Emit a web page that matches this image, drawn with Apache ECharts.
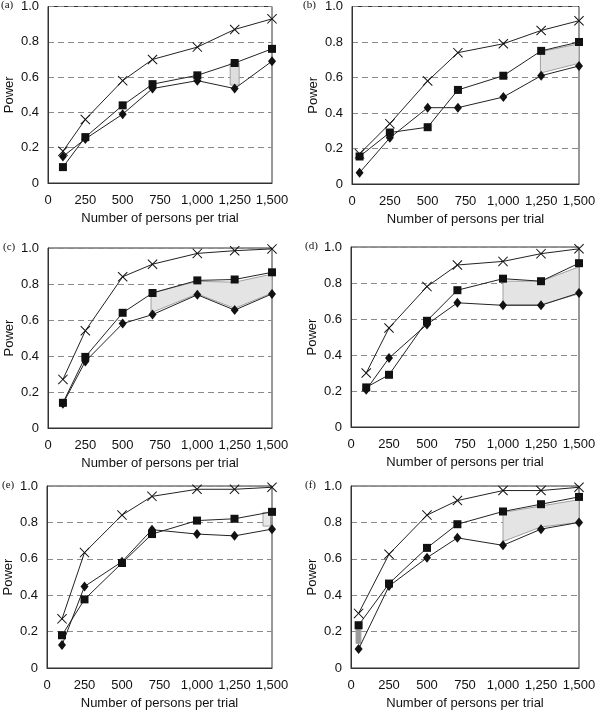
<!DOCTYPE html>
<html><head><meta charset="utf-8">
<script src="https://cdn.jsdelivr.net/npm/echarts@6/dist/echarts.min.js"></script>
<style>html,body{margin:0;padding:0;background:#fff}#c{width:600px;height:711px}</style>
</head><body><div id="c"></div>
<script>
// ---- data ----
const panelLabels = ['(a)','(b)','(c)','(d)','(e)','(f)'];
const xTicks = [0,250,500,750,1000,1250,1500];
const yTicks = [0,0.2,0.4,0.6,0.8,1.0];

const xA = [100,250,500,700,1000,1250,1500];
const crossA   = [0.18,0.36,0.58,0.70,0.77,0.87,0.93];
const squareA  = [0.09,0.26,0.44,0.56,0.61,0.68,0.76];
const diamondA = [0.15,0.25,0.39,0.535,0.58,0.535,0.69];
const bandXA = [[1220,1280]], bandLowA = [[0.555,0.555]], bandHighA = [[0.68,0.68]];

const xB = [50,250,500,700,1000,1250,1500];
const crossB   = [0.17,0.34,0.58,0.74,0.79,0.865,0.92];
const squareB  = [0.155,0.29,0.32,0.53,0.61,0.75,0.80];
const diamondB = [0.064,0.26,0.43,0.43,0.49,0.61,0.665];
const bandXB = [[1245,1500]], bandLowB = [[0.625,0.68]], bandHighB = [[0.745,0.79]];

const xC = [100,250,500,700,1000,1250,1500];
const crossC   = [0.27,0.54,0.84,0.91,0.97,0.985,0.995];
const squareC  = [0.14,0.395,0.64,0.75,0.82,0.825,0.865];
const diamondC = [0.135,0.37,0.58,0.63,0.74,0.655,0.745];
const bandXC = [[690,1000,1250,1500]], bandLowC = [[0.64,0.745,0.665,0.75]], bandHighC = [[0.75,0.815,0.81,0.855]];

const xD = [100,250,500,700,1000,1250,1500];
const crossD   = [0.30,0.55,0.78,0.90,0.92,0.963,0.99];
const squareD  = [0.22,0.29,0.59,0.76,0.824,0.81,0.91];
const diamondD = [0.207,0.383,0.57,0.69,0.676,0.676,0.745];
const bandXD = [[1000,1250,1500]], bandLowD = [[0.68,0.68,0.74]], bandHighD = [[0.81,0.81,0.89]];

const xE = [100,250,500,700,1000,1250,1500];
const crossE   = [0.27,0.634,0.84,0.943,0.982,0.982,0.993];
const squareE  = [0.18,0.377,0.577,0.736,0.81,0.82,0.858];
const diamondE = [0.126,0.448,0.584,0.76,0.736,0.726,0.763];
const bandXE = [[1440,1490]], bandLowE = [[0.78,0.78]], bandHighE = [[0.855,0.855]];

const xF = [50,250,500,700,1000,1250,1500];
const crossF   = [0.30,0.625,0.84,0.92,0.975,0.975,0.993];
const squareF  = [0.235,0.464,0.66,0.79,0.86,0.90,0.94];
const diamondF = [0.104,0.45,0.606,0.715,0.674,0.763,0.80];
const bandXF = [[33,65],[1000,1250,1500]], bandLowF = [[0.135,0.135],[0.695,0.775,0.80]], bandHighF = [[0.23,0.23],[0.855,0.89,0.925]];

// ---- layout ----
const grids = [
  {left:48, top:6,   width:224, height:177},
  {left:352,top:6,   width:227, height:178},
  {left:48, top:248, width:224, height:180},
  {left:351,top:247, width:228, height:180},
  {left:47, top:486, width:225, height:188},
  {left:351,top:486, width:228, height:186}
];
const labelPos = [[1,6],[303,6],[3,248],[305,247],[2,486],[305,486]];
const bandFill = [['#dedede'],['#e2e2e2'],['#e4e4e4'],['#e4e4e4'],['#e8e8e8'],['#9a9a9a','#e4e4e4']];

const panels = [
  [xA,crossA,squareA,diamondA,bandXA,bandLowA,bandHighA],
  [xB,crossB,squareB,diamondB,bandXB,bandLowB,bandHighB],
  [xC,crossC,squareC,diamondC,bandXC,bandLowC,bandHighC],
  [xD,crossD,squareD,diamondD,bandXD,bandLowD,bandHighD],
  [xE,crossE,squareE,diamondE,bandXE,bandLowE,bandHighE],
  [xF,crossF,squareF,diamondF,bandXF,bandLowF,bandHighF]
];

const FONT = 'Liberation Sans, Arial, sans-serif';
const crossPath = 'path://M0,0.7L0.7,0L5,4.3L9.3,0L10,0.7L5.7,5L10,9.3L9.3,10L5,5.7L0.7,10L0,9.3L4.3,5Z';

function fmtX(v){ return v>=1000 ? Math.floor(v/1000)+','+String(v%1000).padStart(3,'0') : String(v); }
function fmtY(v){ return v===0 ? '0' : v.toFixed(1); }

const option = {
  animation:false,
  grid: grids.map(g=>Object.assign({show:true, borderColor:'#333', borderWidth:1, containLabel:false}, g)),
  xAxis: grids.map((g,i)=>({
    gridIndex:i, type:'value', min:0, max:1500, interval:250,
    name:'Number of persons per trial', nameLocation:'middle', nameGap:29,
    nameTextStyle:{fontFamily:FONT, fontSize:13, color:'#111'},
    axisLine:{show:true, lineStyle:{color:'#333', width:1}},
    axisTick:{show:false},
    axisLabel:{formatter:fmtX, fontFamily:FONT, fontSize:13, color:'#111', margin:11},
    splitLine:{show:false}
  })),
  yAxis: grids.map((g,i)=>({
    gridIndex:i, type:'value', min:0, max:1, interval:0.2,
    name:'Power', nameLocation:'middle', nameGap:32, nameRotate:90,
    nameTextStyle:{fontFamily:FONT, fontSize:13, color:'#111'},
    axisLine:{show:true, lineStyle:{color:'#333', width:1}},
    axisTick:{show:false},
    axisLabel:{formatter:fmtY, fontFamily:FONT, fontSize:13, color:'#111', margin:9},
    splitLine:{show:true, lineStyle:{color:'#8a8a8a', type:[6,4], width:1}}
  })),
  graphic: panelLabels.map((t,i)=>({
    type:'text', left:labelPos[i][0], top:labelPos[i][1]-6,
    style:{text:t, font:'11px "Liberation Serif", "DejaVu Serif", serif', fill:'#111'}
  })),
  series: []
};

panels.forEach((p,i)=>{
  const [xs,cr,sq,di,bx,bl,bh] = p;
  option.series.push({
    type:'custom', xAxisIndex:i, yAxisIndex:i, z:1, silent:true,
    encode:{x:0, y:1},
    data: bx.map((b,k)=>[b[0], bl[k][0]]),
    renderItem:(params, api)=>{
      const k = params.dataIndex;
      const xsb = bx[k], lo = bl[k], hi = bh[k];
      const top = xsb.map((x,j)=>api.coord([x,hi[j]]));
      const bot = xsb.map((x,j)=>api.coord([x,lo[j]])).reverse();
      return {type:'polygon', shape:{points:top.concat(bot)},
        style:{fill:bandFill[i][k], stroke:'#a0a0a0', lineWidth:1}};
    }
  });
  const mk = (ys, symbol, size) => ({
    type:'line', xAxisIndex:i, yAxisIndex:i, z:3,
    data: xs.map((x,j)=>[x, ys[j]]),
    symbol, symbolSize:size, showSymbol:true,
    itemStyle:{color:'#111', borderWidth:0},
    lineStyle:{color:'#222', width:1},
    emphasis:{disabled:true}
  });
  option.series.push(mk(cr, crossPath, 10));
  option.series.push(mk(sq, 'rect', 8));
  option.series.push(mk(di, 'diamond', [8,10]));
});

const chart = echarts.init(document.getElementById('c'), null, {renderer:'canvas'});
chart.setOption(option);
</script>
</body></html>
